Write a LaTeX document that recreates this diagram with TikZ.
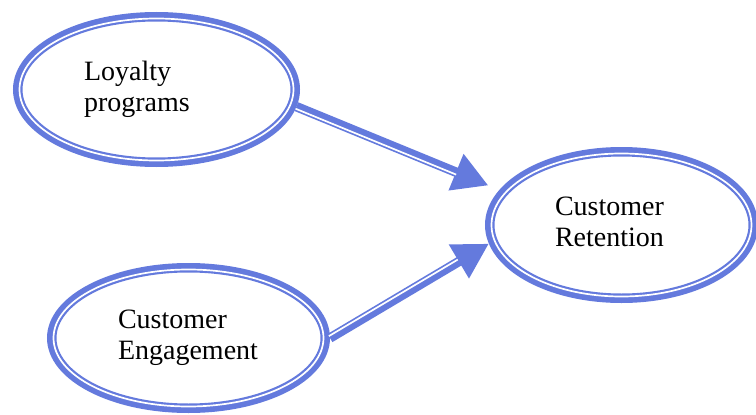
\documentclass[tikz,border=0pt]{standalone}
\usepackage{fontspec}
\setmainfont{Liberation Serif}
\usetikzlibrary{shapes.geometric,arrows.meta}

\definecolor{ringblue}{RGB}{100,122,221}

\tikzset{
  ring/.style={ellipse, draw=ringblue, line width=9.5pt, fill=white, inner sep=0pt,
    align=left, font=\fontsize{28}{31}\selectfont,
    execute at begin node=\strut, execute at end node=\strut},
  gapline/.style={draw=white, line width=1.7pt},
  link/.style={draw=ringblue, line width=9.5pt, -{Triangle[length=35pt,width=37pt]}},
}

\begin{document}
\begin{tikzpicture}[x=1pt,y=-1pt]
  \useasboundingbox (0,0) rectangle (756,415);
  % the three ellipses
  \node[ring, minimum width=277.5pt, minimum height=145.5pt, text width=145pt]
    (loyalty) at (156.5,89.5) {Loyalty\\programs};
  \node[ring, minimum width=263.5pt, minimum height=146.5pt, text width=133pt]
    (retention) at (621.5,225) {Customer\\Retention};
  \node[ring, minimum width=273.5pt, minimum height=140.5pt, text width=141pt]
    (engagement) at (188.5,338) {Customer\\Engagement};
  % thin inner rings
  \draw[gapline] (loyalty.center) ellipse [x radius=137pt, y radius=71pt];
  \draw[gapline] (retention.center) ellipse [x radius=130pt, y radius=71.5pt];
  \draw[gapline] (engagement.center) ellipse [x radius=135pt, y radius=68.5pt];
  % arrows
  \draw[link, shorten >=12pt] (loyalty.-7) -- (retention.164);
  \draw[gapline, shorten >=46pt, transform canvas={shift={(-0.84pt,-2.03pt)}}]
    (loyalty.-7) -- (retention.164);
  \draw[link] (engagement.east) -- (retention.-172);
  \draw[gapline, shorten >=35pt, transform canvas={shift={(-1.13pt,1.88pt)}}]
    (engagement.east) -- (retention.-172);
\end{tikzpicture}
\end{document}
